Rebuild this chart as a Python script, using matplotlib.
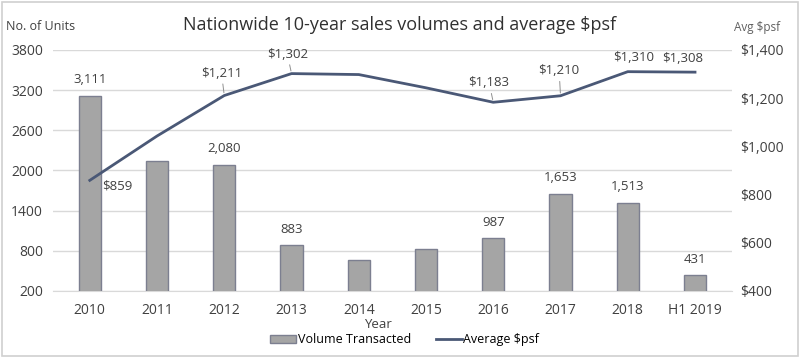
import numpy as np
import matplotlib.pyplot as plt
from matplotlib.patches import Patch
from matplotlib.lines import Line2D

plt.rcParams['font.family'] = ['Open Sans', 'DejaVu Sans']

years = ['2010', '2011', '2012', '2013', '2014', '2015', '2016', '2017', '2018', 'H1 2019']
volume = [3111, 2141, 2080, 883, 662, 826, 987, 1653, 1513, 431]
volume_labels = ['3,111', None, '2,080', '883', None, None, '987', '1,653', '1,513', '431']
psf = [859, 1043, 1211, 1302, 1298, 1243, 1183, 1210, 1310, 1308]
psf_labels = ['$859', None, '$1,211', '$1,302', None, None, '$1,183', '$1,210', '$1,310', '$1,308']

bar_col = '#a5a5a5'
line_col = '#4a5876'
txt_col = '#404040'

fig = plt.figure(figsize=(8, 3.57), dpi=100)
ax = fig.add_axes([0.066, 0.185, 0.849, 0.675])
x = np.arange(len(years))

ax.bar(x, volume, width=0.33, color=bar_col, edgecolor='#7c7f90', linewidth=1.0, zorder=3)
ax.set_ylim(200, 3800)
ax.set_yticks(np.arange(200, 3801, 600))
ax.set_xlim(-0.55, len(years) - 0.45)
ax.set_xticks(x)
ax.set_xticklabels(years)
ax.grid(axis='y', color='#d9d9d9', linewidth=1, zorder=0)
for s in ['top', 'right', 'left']:
    ax.spines[s].set_visible(False)
ax.spines['bottom'].set_color('#d9d9d9')
ax.tick_params(length=0, labelsize=10, colors=txt_col, pad=9)
ax.tick_params(axis='y', pad=7)

for i, lab in enumerate(volume_labels):
    if lab:
        ax.annotate(lab, (x[i], volume[i]), xytext=(0, 7), textcoords='offset points',
                    ha='center', va='bottom', fontsize=9.5, color=txt_col, zorder=5)

ax2 = ax.twinx()
ax2.plot(x, psf, color=line_col, linewidth=2, zorder=4)
ax2.set_ylim(400, 1400)
ax2.set_yticks(np.arange(400, 1401, 200))
ax2.set_yticklabels(['\\$%s' % format(v, ',') for v in range(400, 1401, 200)])
for s in ['top', 'right', 'left', 'bottom']:
    ax2.spines[s].set_visible(False)
ax2.tick_params(length=0, labelsize=10, colors=txt_col, pad=6)

# label offsets in points (dx, dy), leader line or not
offsets = [(20, -4, False), None, (-2, 16, True), (-3, 14, True), None, None,
           (-3, 14, True), (-1, 18, True), (4, 10, False), (-9, 10, False)]
for i, lab in enumerate(psf_labels):
    if lab:
        dx, dy, lead = offsets[i]
        ap = dict(arrowstyle='-', color='#909090', lw=0.7, shrinkA=1, shrinkB=2) if lead else None
        ax2.annotate(lab.replace('$', '\\$'), (x[i], psf[i]), xytext=(dx, dy), textcoords='offset points',
                     ha='center', va='center', fontsize=9.5, color=txt_col, arrowprops=ap, zorder=5)

fig.text(0.5, 0.93, 'Nationwide 10-year sales volumes and average \\$psf', ha='center', va='center',
         fontsize=13, color='#303030')
fig.text(0.008, 0.927, 'No. of Units', ha='left', va='center', fontsize=9, color=txt_col)
fig.text(0.918, 0.923, 'Avg \\$psf', ha='left', va='center', fontsize=8.5, color='#606060')
fig.text(0.4725, 0.09, 'Year', ha='center', va='center', fontsize=9.5, color=txt_col)

handles = [Patch(facecolor=bar_col, edgecolor='#7c7f90'), Line2D([], [], color=line_col, lw=2)]
fig.legend(handles, ['Volume Transacted', 'Average \\$psf'], loc='center', bbox_to_anchor=(0.506, 0.048),
           ncol=2, frameon=False, fontsize=9, handlelength=2.1, handleheight=0.6,
           handletextpad=0.1, columnspacing=2)

fig.patches.append(plt.Rectangle((0.002, 0.004), 0.995, 0.99, transform=fig.transFigure,
                                 fill=False, edgecolor='#d0d0d0', linewidth=1.2))

fig.savefig('out.png', dpi=100)
